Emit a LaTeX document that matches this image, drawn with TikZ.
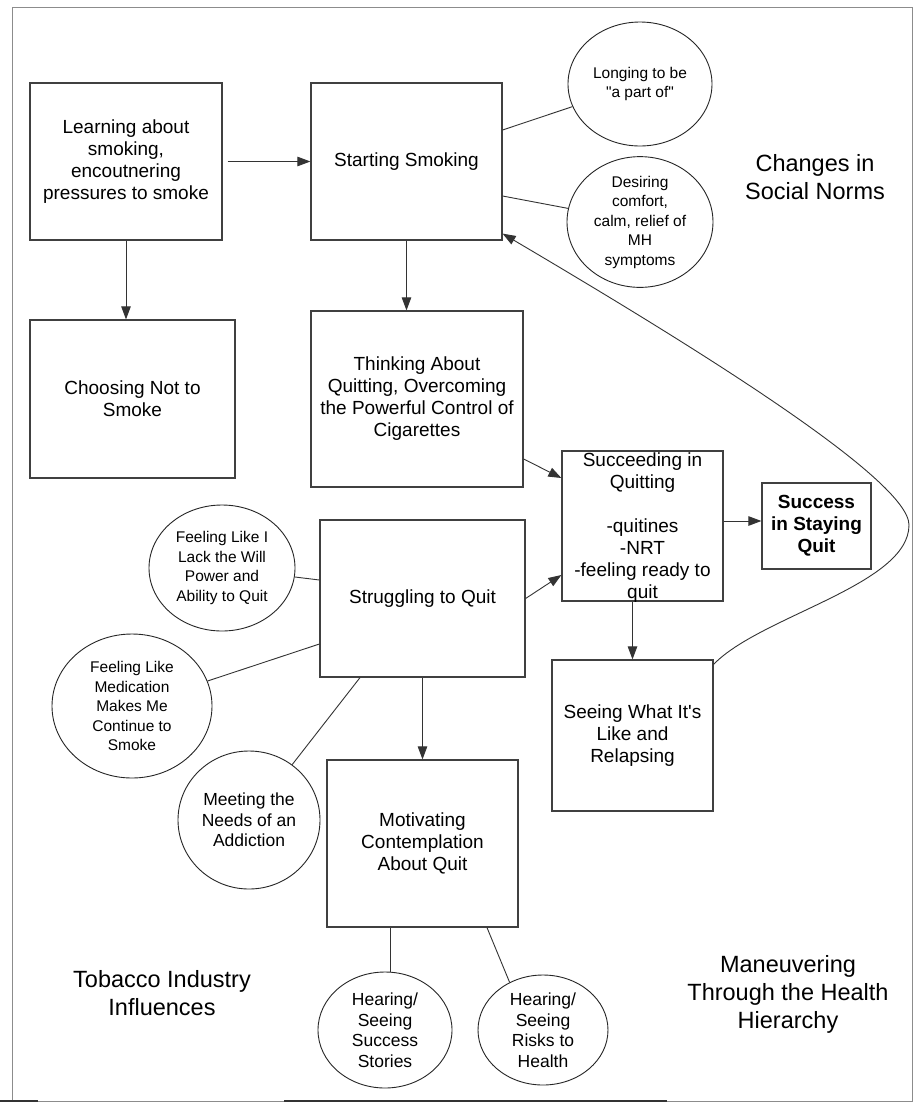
\documentclass[tikz,border=0pt]{standalone}
\usepackage{fontspec}
\setmainfont{Liberation Sans}
\newfontfamily\plainsans{Liberation Sans}
\usetikzlibrary{shapes.geometric,arrows.meta,calc}
\begin{document}
\begin{tikzpicture}[x=1pt,y=-1pt,
  box/.style={draw=black!75,line width=1.2pt,rectangle,inner sep=0pt,align=center,font=\plainsans\fontsize{19}{22}\selectfont},
  bubble/.style={draw=black!85,line width=0.9pt,ellipse,inner sep=0pt,align=center,font=\plainsans\fontsize{15.5}{19.5}\selectfont},
  bigbubble/.style={bubble,font=\plainsans\fontsize{17.5}{20.5}\selectfont},
  conn/.style={draw=black!80,line width=0.9pt},
  arr/.style={conn,-{Triangle[length=13pt,width=9.5pt]}},
  zone/.style={align=center,inner sep=0pt,font=\plainsans\fontsize{23.5}{28}\selectfont},
  txt/.style={align=center,inner sep=0pt,font=\plainsans\fontsize{19}{22}\selectfont}
]
\useasboundingbox (0,0) rectangle (914,1104);
\fill[white] (0,0) rectangle (914,1104);
% page frame
\draw[black!45,line width=1pt] (12,7) -- (912,7) -- (912,1101) -- (12,1101) -- cycle;
\draw[black!45,line width=1pt] (0,1101) -- (12,1101);
\draw[black!80,line width=1.8pt] (0,1101) -- (38,1101);
\draw[black!80,line width=1.8pt] (284,1101) -- (667,1101);

% boxes
\node[box,minimum width=192pt,minimum height=157pt] (L) at (126,161.5) {Learning about\\smoking,\\encoutnering\\pressures to smoke};
\node[box,minimum width=191pt,minimum height=157pt] (S) at (406.5,161.5) {Starting Smoking};
\node[box,minimum width=205pt,minimum height=158pt] (C) at (132.5,399) {Choosing Not to\\Smoke};
\node[box,minimum width=212pt,minimum height=176pt] (T) at (417,399) {Thinking About\\Quitting, Overcoming\\the Powerful Control of\\Cigarettes};
\node[box,minimum width=161pt,minimum height=150pt] (Q) at (642.5,526) {};
\node[txt] (Qtext) at ([yshift=-1.5pt]Q.center) {Succeeding in\\Quitting\\\mbox{}\\-quitines\\-NRT\\-feeling ready to\\quit};
\node[box,minimum width=109pt,minimum height=86pt,font=\plainsans\bfseries\fontsize{19}{22}\selectfont] (SQ) at (816.5,526) {Success\\in Staying\\Quit};
\node[box,minimum width=161pt,minimum height=151pt] (R) at (632.5,735.5) {Seeing What It's\\Like and\\Relapsing};
\node[box,minimum width=205pt,minimum height=157pt] (St) at (422.5,598.5) {Struggling to Quit};
\node[box,minimum width=191pt,minimum height=167pt] (M) at (422.5,843.5) {Motivating\\Contemplation\\About Quit};

% bubbles
\node[bubble,minimum width=144pt,minimum height=124pt] (e1) at (640,84) {Longing to be\\"a part of"};
\node[bubble,minimum width=146pt,minimum height=130pt] (e2) at (640,222) {Desiring\\comfort,\\calm, relief of\\MH\\symptoms};
\node[bubble,minimum width=146pt,minimum height=126pt] (e3) at (222,568) {Feeling Like I\\Lack the Will\\Power and\\Ability to Quit};
\node[bubble,minimum width=160pt,minimum height=144pt] (e4) at (132,706) {Feeling Like\\Medication\\Makes Me\\Continue to\\Smoke};
\node[bigbubble,minimum width=142pt,minimum height=138pt] (e5) at (249,820) {Meeting the\\Needs of an\\Addiction};
\node[bigbubble,minimum width=134pt,minimum height=116pt] (e6) at (385,1030) {Hearing/\\Seeing\\Success\\Stories};
\node[bigbubble,minimum width=130pt,minimum height=110pt] (e7) at (543,1030) {Hearing/\\Seeing\\Risks to\\Health};

% zone labels
\node[zone] (cn) at (815,177) {Changes in\\Social Norms};
\node[zone] (ti) at (162,993) {Tobacco Industry\\Influences};
\node[zone] (mh) at (788,994) {Maneuvering\\Through the Health\\Hierarchy};

% arrows
\draw[arr,shorten <=5pt] (L) -- (S);
\draw[arr] (L.south) -- (L.south |- C.north);
\draw[arr] (S.south) -- (S.south |- T.north);
\draw[arr] ([yshift=-60pt]T.east) -- ([yshift=48pt]Q.west);
\draw[arr] ([yshift=0pt]St.east) -- ([yshift=-49pt]Q.west);
\draw[arr] ([yshift=5pt]Q.east) -- ([yshift=5pt]Q.east -| SQ.west);
\draw[arr] (R.north |- Q.south) -- (R.north);
\draw[arr] (St.south) -- (M.north);
\coordinate (turn) at (909,525);
\draw[arr] ([yshift=-5pt]R.north east) .. controls (760,616) and (909,585) .. (turn)
  .. controls (909,480) and (700,350) .. ([yshift=7pt]S.south east);

% plain connectors
\draw[conn] ([yshift=31.5pt]S.east) -- (e1);
\draw[conn] ([yshift=-34.5pt]S.east) -- (e2);
\draw[conn] (e3) -- ([yshift=18.5pt]St.west);
\draw[conn] (e4) -- ([yshift=-45.5pt]St.west);
\draw[conn] (e5) -- ([xshift=-62.5pt]St.south);
\draw[conn] ([xshift=-32.5pt]M.south) -- ([xshift=-32.5pt]M.south |- e6.north);
\draw[conn] ([xshift=64.5pt]M.south) -- (e7.125);
\end{tikzpicture}
\end{document}
